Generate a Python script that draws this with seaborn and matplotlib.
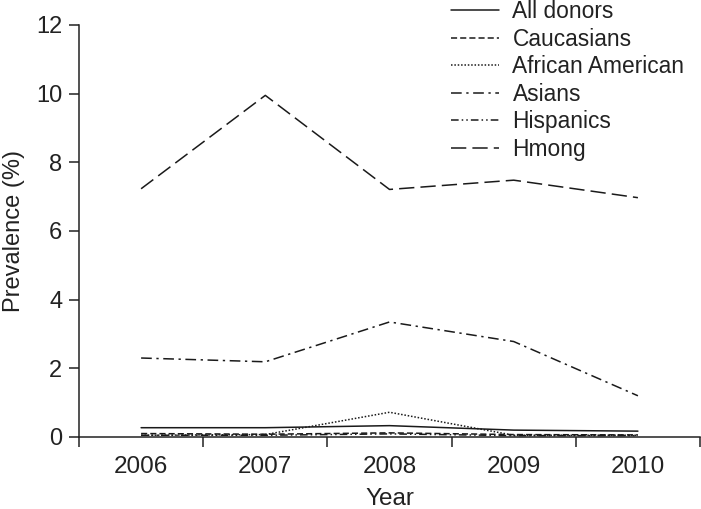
import pandas as pd
import seaborn as sns
import matplotlib.pyplot as plt
from matplotlib.ticker import FixedLocator

# values
years = [2006, 2007, 2008, 2009, 2010]
groups = ['All donors', 'Caucasians', 'African American', 'Asians', 'Hispanics', 'Hmong']
all_donors = [0.27, 0.27, 0.33, 0.20, 0.17]
caucasians = [0.10, 0.08, 0.12, 0.07, 0.06]
african_american = [0.05, 0.07, 0.72, 0.05, 0.05]
asians = [2.30, 2.19, 3.35, 2.78, 1.20]
hispanics = [0.05, 0.05, 0.09, 0.04, 0.04]
hmong = [7.23, 9.95, 7.21, 7.48, 6.97]

series = [all_donors, caucasians, african_american, asians, hispanics, hmong]
rows = []
for g, vals in zip(groups, series):
    for y, v in zip(years, vals):
        rows.append({'Year': y, 'Prevalence': v, 'Group': g})
df = pd.DataFrame(rows)

dashes = {
    'All donors': '',
    'Caucasians': (4, 2),
    'African American': (1, 1.2),
    'Asians': (7, 3, 1.5, 3),
    'Hispanics': (5, 2, 1, 2, 1, 2),
    'Hmong': (10, 4),
}

sns.set_style('ticks')
plt.rcParams['font.family'] = ['Liberation Sans', 'DejaVu Sans']

fig = plt.figure(figsize=(7.01, 5.09), dpi=100)
ax = fig.add_axes([0.1127, 0.1415, 0.8859, 0.8094])

sns.lineplot(data=df, x='Year', y='Prevalence', hue='Group', style='Group',
             hue_order=groups, style_order=groups,
             palette=['#1a1a1a'] * 6, dashes=dashes, linewidth=1.1, ax=ax)

ax.set_xlim(2005.5, 2010.5)
ax.set_ylim(0, 12)
ax.set_yticks(range(0, 13, 2))
ax.xaxis.set_major_locator(FixedLocator([2005.5, 2006.5, 2007.5, 2008.5, 2009.5, 2010.5]))
ax.xaxis.set_major_formatter(plt.NullFormatter())
ax.xaxis.set_minor_locator(FixedLocator(years))
ax.set_xticklabels([str(y) for y in years], minor=True)
ax.tick_params(axis='x', which='minor', length=0, pad=14, labelsize=17.5, colors='#222')
ax.tick_params(axis='x', which='major', length=7, width=1.1, color='#222', direction='out')
ax.tick_params(axis='y', length=7, width=1.1, color='#222', labelsize=17, pad=5, labelcolor='#222')

for s in ['top', 'right']:
    ax.spines[s].set_visible(False)
for s in ['left', 'bottom']:
    ax.spines[s].set_linewidth(1.1)
    ax.spines[s].set_color('#222')

ax.set_xlabel('Year', fontsize=17.5, color='#222', labelpad=7)
ax.set_ylabel('Prevalence (%)', fontsize=17, color='#222', labelpad=8)

handles, labels = ax.get_legend_handles_labels()
leg = ax.legend(handles, labels, loc='upper left', bbox_to_anchor=(451 / 701, 1.0),
                bbox_transform=fig.transFigure, frameon=False, fontsize=16.4,
                handlelength=2.1, handletextpad=0.6, labelspacing=0.2,
                borderpad=0, borderaxespad=0)
for t in leg.get_texts():
    t.set_color('#222')

fig.savefig('out.png', dpi=100)
